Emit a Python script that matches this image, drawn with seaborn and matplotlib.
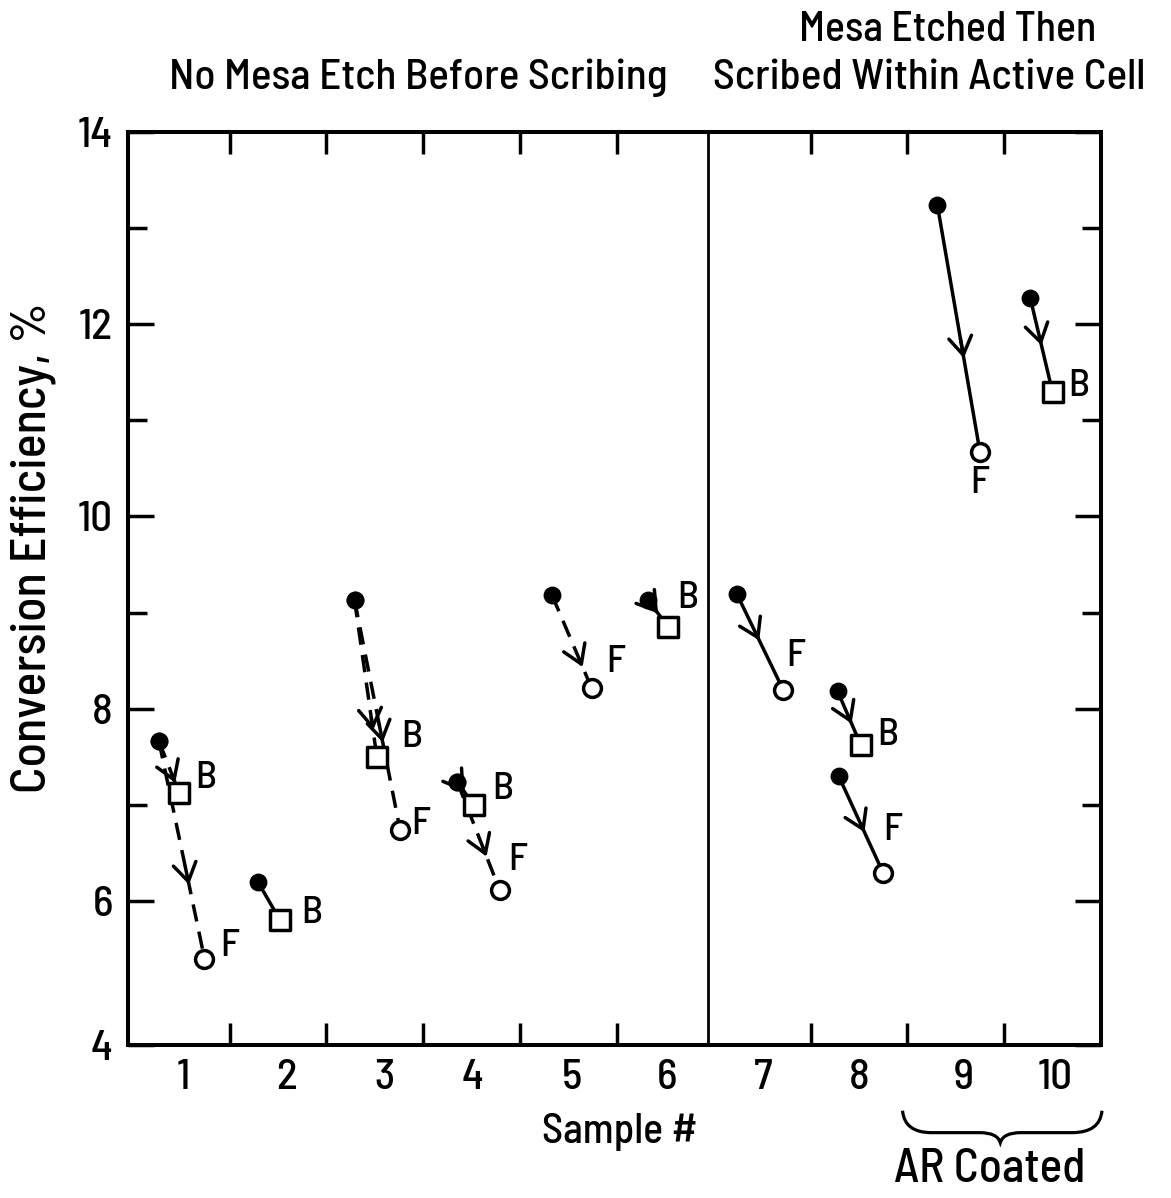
"""
Conversion efficiency before and after scribing, samples 1-10.
Filled circle = before scribing, square = after back scribe (B),
open circle = after front scribe (F).
"""

import numpy as np
import pandas as pd
import matplotlib.pyplot as plt
import matplotlib.transforms as mtransforms
from matplotlib.path import Path
from matplotlib.patches import PathPatch
import seaborn as sns

# DATA ########################################################################
# one entry per scribe step (before -> after)
sample = [1, 1, 2, 3, 3, 4, 4, 5, 6, 7, 8, 8, 9, 10]
before_x = [0.27, 0.27, 1.29, 2.29, 2.29, 3.35, 3.35, 4.33, 5.32, 6.24, 7.28, 7.29, 8.31, 9.27]
before_y = [7.66, 7.66, 6.20, 9.13, 9.13, 7.24, 7.24, 9.18, 9.13, 9.19, 8.18, 7.30, 13.24, 12.27]
after_x = [0.48, 0.74, 1.52, 2.52, 2.76, 3.52, 3.79, 4.74, 5.53, 6.72, 7.52, 7.75, 8.75, 9.50]
after_y = [7.12, 5.40, 5.80, 7.50, 6.74, 7.00, 6.11, 8.21, 8.85, 8.19, 7.62, 6.29, 10.67, 11.29]
after_kind = ['B', 'F', 'B', 'B', 'F', 'B', 'F', 'F', 'B', 'F', 'B', 'F', 'F', 'B']
dashed = [True, True, False, True, True, True, True, True, False, False, False, False, False, False]
arrow_at = [0.8, 0.66, np.nan, 0.83, 0.62, 0.45, 0.69, 0.77, 0.5, 0.48, 0.6, 0.58, 0.62, 0.5]

sample_pos = [0.52, 1.59, 2.60, 3.51, 4.53, 5.52, 6.51, 7.50, 8.58, 9.53]
sample_labels = ['1', '2', '3', '4', '5', '6', '7', '8', '9', '10']
y_ticks = [4.5, 6, 8, 10, 12, 14]
y_tick_labels = ['4', '6', '8', '10', '12', '14']

# settings
W, H = 1171, 1198
LABEL_OFFSET = [(19, 11), (18, 9), (23, 5), (25, 14), (15, 4), (21, 11), (13, 22),
                (17, 19), (14, 21), (9, 25), (19, 7), (7, 31), (0, -22), (19, 5)]
LW = 2.5
FONT = ['Barlow Semi Condensed', 'DejaVu Sans']


def main():
    sns.set_style('ticks')
    plt.rcParams['font.family'] = FONT
    plt.rcParams['font.weight'] = 'medium'
    plt.rcParams['axes.labelweight'] = 'medium'
    for key in ['text.color', 'axes.labelcolor', 'xtick.color', 'ytick.color', 'axes.edgecolor']:
        plt.rcParams[key] = 'k'

    fig = plt.figure(figsize=[W / 100, H / 100], dpi=100)
    ax = fig.add_axes([128 / W, 1 - 1045 / H, (1101 - 128) / W, (1045 - 132) / H])

    # lines, arrow heads and B/F labels
    for ii in range(len(sample)):
        bx, by, axx, ayy = before_x[ii], before_y[ii], after_x[ii], after_y[ii]
        ls = (0, (5, 3)) if dashed[ii] else '-'
        ax.plot([bx, axx], [by, ayy], color='k', lw=LW, ls=ls,
                dash_capstyle='butt', zorder=2)
        f = arrow_at[ii]
        if not np.isnan(f):
            tip = (bx + f * (axx - bx), by + f * (ayy - by))
            tail = (bx + (f - 0.08) * (axx - bx), by + (f - 0.08) * (ayy - by))
            ax.annotate('', xy=tip, xytext=tail,
                        arrowprops=dict(arrowstyle='->,head_length=0.52,head_width=0.33',
                                        lw=LW, color='k', shrinkA=0, shrinkB=0,
                                        mutation_scale=25))
        dx, dy = LABEL_OFFSET[ii]
        ax.annotate(after_kind[ii], (axx, ayy), xytext=(dx, dy),
                    textcoords='offset points', ha='center', va='center', fontsize=28)

    # markers
    pts = pd.DataFrame({'x': before_x + after_x, 'y': before_y + after_y,
                        'kind': ['start'] * len(sample) + after_kind})
    sns.scatterplot(data=pts[pts.kind == 'start'], x='x', y='y', marker='o', s=165,
                    color='k', edgecolor='k', linewidth=0, zorder=4, ax=ax, legend=False)
    sns.scatterplot(data=pts[pts.kind == 'F'], x='x', y='y', marker='o', s=165,
                    color='white', edgecolor='k', linewidth=LW, zorder=4, ax=ax, legend=False)
    sns.scatterplot(data=pts[pts.kind == 'B'], x='x', y='y', marker='s', s=200,
                    color='white', edgecolor='k', linewidth=LW, zorder=4, ax=ax, legend=False)

    # divider between the two groups
    ax.axvline(5.94, color='k', lw=2)

    # axes
    ax.set_xlim(-0.05, 10)
    ax.set_ylim(4.5, 14)
    ax.set_xticks([1, 2, 3, 4, 5, 7, 8, 9])
    ax.set_xticks(sample_pos, labels=sample_labels, minor=True)
    ax.set_yticks(y_ticks, labels=y_tick_labels)
    ax.set_yticks([7, 9, 11, 13], minor=True)
    ax.tick_params(which='both', direction='in', top=True, right=True,
                   width=LW, color='k', labelsize=31)
    ax.tick_params(axis='y', which='major', length=19, pad=11)
    ax.tick_params(axis='y', which='minor', length=14)
    ax.tick_params(axis='x', which='major', length=16, labelbottom=False)
    ax.tick_params(axis='x', which='minor', length=0, pad=10)
    for lab in ax.get_xticklabels(minor=True) + ax.get_yticklabels():
        lab.set_fontweight('medium')
    for sp in ax.spines.values():
        sp.set_linewidth(2.9)
        sp.set_color('k')

    ax.set_xlabel('Sample #', fontsize=30)
    ax.xaxis.set_label_coords((620 - 128) / 973, -0.074)
    ax.set_ylabel('Conversion Efficiency, %', fontsize=36)
    ax.yaxis.set_label_coords(-0.074, 0.545)

    # group titles
    fig.text(418 / W, 1 - 78 / H, 'No Mesa Etch Before Scribing', ha='center', va='center', fontsize=31)
    fig.text(948 / W, 1 - 30 / H, 'Mesa Etched Then', ha='center', va='center', fontsize=30)
    fig.text(929 / W, 1 - 78 / H, 'Scribed Within Active Cell', ha='center', va='center', fontsize=31)

    # brace under samples 9 and 10
    trans = mtransforms.blended_transform_factory(ax.transData, ax.transAxes)
    verts = [(7.95, -0.072), (7.97, -0.096), (8.25, -0.096), (8.75, -0.096),
             (8.93, -0.096), (8.96, -0.107), (8.99, -0.096), (9.17, -0.096),
             (9.7, -0.096), (9.99, -0.096), (10.01, -0.072)]
    codes = [Path.MOVETO, Path.CURVE3, Path.CURVE3, Path.LINETO, Path.CURVE3, Path.CURVE3,
             Path.CURVE3, Path.CURVE3, Path.LINETO, Path.CURVE3, Path.CURVE3]
    ax.add_patch(PathPatch(Path(verts, codes), transform=trans, fill=False,
                           lw=2.3, color='k', clip_on=False))
    fig.text(990 / W, 1 - 1170 / H, 'AR Coated', ha='center', va='center', fontsize=34)

    fig.savefig('out.png', dpi=100)


if __name__ == '__main__':
    main()
